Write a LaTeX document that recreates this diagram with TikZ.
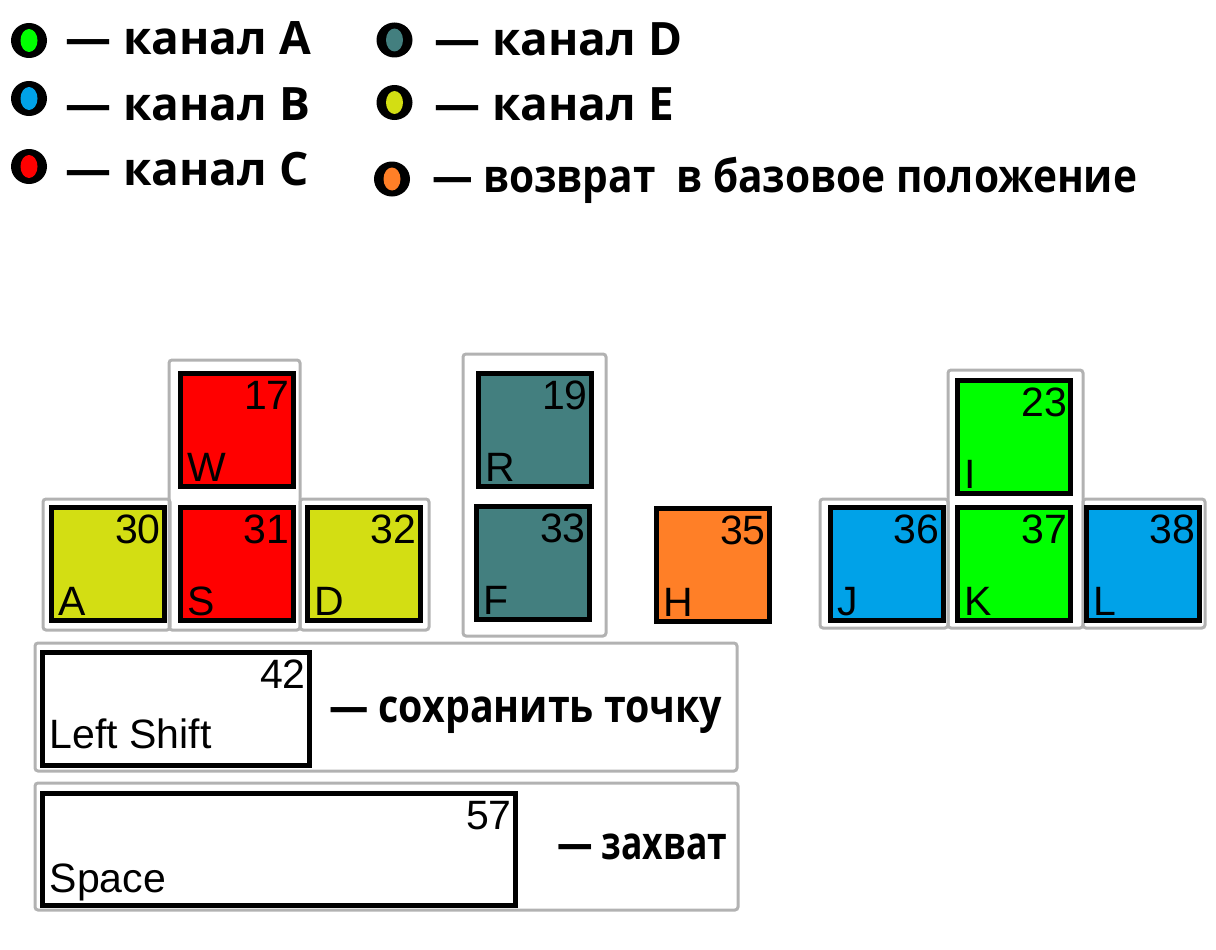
\documentclass[tikz,border=0pt]{standalone}
\usepackage{fontspec}
\usepackage{graphicx}
\setmainfont{Liberation Sans}
\newfontfamily\legendfont{Open Sans}
\usetikzlibrary{calc,shapes.geometric}
\definecolor{chanA}{RGB}{0,255,0}
\definecolor{chanB}{RGB}{0,162,232}
\definecolor{chanC}{RGB}{255,0,0}
\definecolor{chanD}{RGB}{67,127,127}
\definecolor{chanE}{RGB}{211,222,19}
\definecolor{homeback}{RGB}{255,127,39}
\tikzset{
	keybox/.style={draw, line width=5pt, minimum width=113pt, minimum height=113pt, inner sep=0pt},
	keynum/.style={font=\fontsize{41}{44}\selectfont, inner sep=0pt},
	keyletter/.style={font=\fontsize{41}{44}\selectfont, inner sep=0pt},
	keygroup/.style={draw=gray!60, line width=3pt, rounded corners=3pt},
	legring/.style={ellipse, fill=black, minimum width=36pt, minimum height=35pt, inner sep=0pt},
	legcore/.style={ellipse, minimum width=17pt, minimum height=23pt, inner sep=0pt},
	legtext/.style={font=\legendfont\bfseries\fontsize{46}{50}\selectfont, inner sep=0pt, anchor=base west}
}
% #6: lift of the letter above the lower edge
\newcommand{\keycap}[6]{
	\node[keybox, fill=#4, #5] (k#1) at (#2) {};
	\node[keynum, anchor=base east] (n#1) at ($(k#1.north east)+(-6,38.5)$) {#1};
	\node[keyletter, anchor=base west] (l#1) at ($(k#1.south west)+(9.5,-#6)$) {#3};
}
\newcommand{\legendmark}[3]{
	\node[legring] (o#1) at (#2) {};
	\node[legcore, fill=#3] (c#1) at (o#1.center) {};
}

\begin{document}
\begin{tikzpicture}[x=1pt, y=-1pt]
			\useasboundingbox (0,0) rectangle (1216,950);
			% legend
			\legendmark{A}{29,40.5}{chanA}
			\node[legtext] (tA) at (65,55) {— канал A};
			\legendmark{B}{29,98.5}{chanB}
			\node[legtext] (tB) at (65,120) {— канал B};
			\legendmark{C}{29,166.5}{chanC}
			\node[legtext] (tC) at (65,185) {— канал C};
			\legendmark{D}{394.5,40}{chanD}
			\node[legtext] (tD) at (434,56) {— канал D};
			\legendmark{E}{394.5,102.5}{chanE}
			\node[legtext] (tE) at (434,120) {— канал E};
			\legendmark{H}{392,179}{homeback}
			\node[legtext] (tH) at (432,192.5) {\resizebox{705pt}{\height}{— возврат\ \ в базовое\ положение}};
			
			% key groups
			\draw[keygroup] (169,360) rectangle (300,630);
			\draw[keygroup] (43,499) rectangle (170,630);
			\draw[keygroup] (300,499) rectangle (429,630);
			\draw[keygroup] (463,354) rectangle (606,636);
			\draw[keygroup] (948,370) rectangle (1083,628);
			\draw[keygroup] (820,499) rectangle (948,628);
			\draw[keygroup] (1083,499) rectangle (1205,628);
			\draw[keygroup] (35,643) rectangle (737,771);
			\draw[keygroup] (35,783) rectangle (738,910);
			
			% keys
			\keycap{17}{237,429.5}{W}{chanC}{}{7.5}
			\keycap{30}{108,563.5}{A}{chanE}{}{7.5}
			\keycap{31}{236.5,563.5}{S}{chanC}{}{7.5}
			\keycap{32}{363.5,563.5}{D}{chanE}{}{7.5}
			\keycap{19}{535,430}{R}{chanD}{}{7.5}
			\keycap{33}{533,563}{F}{chanD}{}{7.5}
			\keycap{35}{713,565}{H}{homeback}{}{7.5}
			\keycap{23}{1014,437}{I}{chanA}{}{7.5}
			\keycap{36}{886.5,563.5}{J}{chanB}{}{7.5}
			\keycap{37}{1014,563.5}{K}{chanA}{}{7.5}
			\keycap{38}{1142.5,563.5}{L}{chanB}{}{7.5}
			\keycap{42}{176,709}{Left Shift}{white}{minimum width=267pt, minimum height=113pt}{19.5}
			\keycap{57}{279,849.5}{Space}{white}{minimum width=473pt, minimum height=112pt}{15.5}
			
			\node[legtext] (tSave) at (329,722) {\resizebox{393pt}{\height}{— сохранить точку}};
			\node[legtext] (tGrab) at (557,859) {\resizebox{170pt}{\height}{— захват}};
		\end{tikzpicture}
\end{document}
